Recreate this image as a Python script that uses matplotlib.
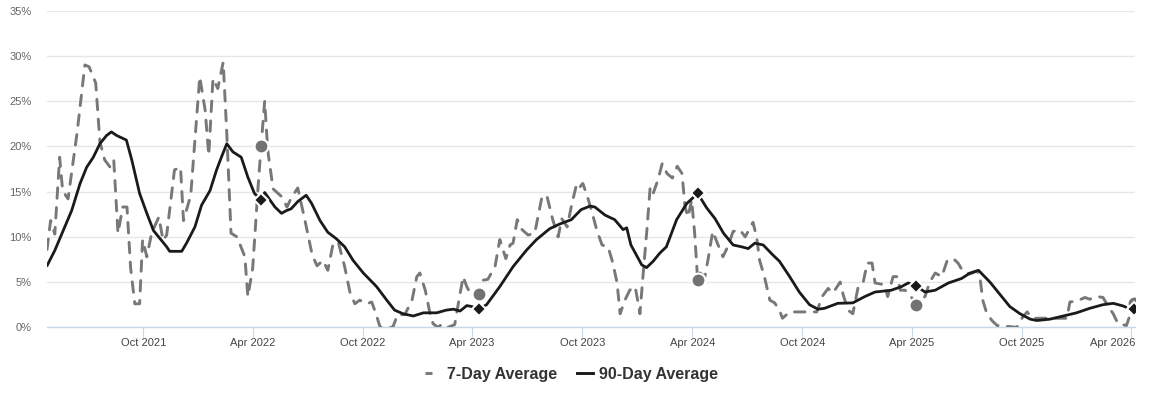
import matplotlib
matplotlib.use('Agg')
import matplotlib.pyplot as plt
from matplotlib.lines import Line2D
import matplotlib.transforms as mtransforms
import pandas as pd

plt.rcParams['font.family'] = ['Liberation Sans', 'DejaVu Sans']

# ---------------- data ----------------
dates7 = ['2021-04-24','2021-04-30','2021-05-07','2021-05-15','2021-05-20','2021-05-29','2021-06-13','2021-06-26',
          '2021-07-03','2021-07-14','2021-07-21','2021-07-29','2021-08-07','2021-08-13','2021-08-20','2021-08-28',
          '2021-09-04','2021-09-10','2021-09-17','2021-09-25','2021-09-30','2021-10-07','2021-10-15','2021-10-27',
          '2021-11-03','2021-11-09','2021-11-22','2021-12-02','2021-12-07','2021-12-19','2022-01-03','2022-01-12',
          '2022-01-18','2022-01-25','2022-02-02','2022-02-11','2022-02-17','2022-02-24','2022-03-06','2022-03-19',
          '2022-03-24','2022-04-01','2022-04-10','2022-04-15','2022-04-21','2022-04-26','2022-05-05','2022-05-20',
          '2022-05-28','2022-06-05','2022-06-15','2022-06-27','2022-07-09','2022-07-17','2022-07-27','2022-08-04',
          '2022-08-12','2022-08-21','2022-09-01','2022-09-10','2022-09-18','2022-09-26','2022-10-08','2022-10-16',
          '2022-10-23','2022-10-30','2022-11-20','2022-11-28','2022-12-10','2022-12-22','2022-12-30','2023-01-04',
          '2023-01-13','2023-01-21','2023-01-26','2023-02-03','2023-02-11','2023-02-20','2023-03-03','2023-03-10',
          '2023-03-17','2023-03-23','2023-03-31','2023-04-12','2023-04-18','2023-04-27','2023-05-09','2023-05-17',
          '2023-05-27','2023-06-03','2023-06-08','2023-06-15','2023-06-23','2023-07-03','2023-07-14','2023-07-26',
          '2023-08-03','2023-08-13','2023-08-22','2023-08-28','2023-09-06','2023-09-14','2023-09-22','2023-09-27',
          '2023-10-02','2023-10-09','2023-10-17','2023-10-25','2023-11-03','2023-11-13','2023-11-21','2023-11-28',
          '2023-12-03','2023-12-11','2023-12-19','2023-12-28','2024-01-02','2024-01-05','2024-01-10','2024-01-17',
          '2024-01-22','2024-01-27','2024-02-04','2024-02-11','2024-02-19','2024-02-28','2024-03-07','2024-03-15',
          '2024-03-20','2024-03-25','2024-03-31','2024-04-05','2024-04-10','2024-04-14','2024-04-22','2024-04-27',
          '2024-05-05','2024-05-14','2024-05-22','2024-05-30','2024-06-08','2024-06-19','2024-06-28','2024-07-11',
          '2024-07-17','2024-07-22','2024-07-30','2024-08-08','2024-08-16','2024-08-24','2024-08-29','2024-09-10',
          '2024-10-25','2024-11-03','2024-11-13','2024-11-21','2024-12-03','2024-12-08','2024-12-16','2024-12-24',
          '2025-01-02','2025-01-10','2025-01-17','2025-01-25','2025-01-30','2025-02-15','2025-02-20','2025-03-01',
          '2025-03-08','2025-03-13','2025-03-21','2025-03-29','2025-04-08','2025-04-23','2025-05-01','2025-05-10',
          '2025-05-21','2025-05-30','2025-06-09','2025-06-17','2025-06-25','2025-07-07','2025-07-18','2025-07-23',
          '2025-07-28','2025-08-04','2025-08-13','2025-08-21','2025-09-23','2025-10-03','2025-10-10','2025-10-18',
          '2025-12-15','2025-12-20','2026-01-01','2026-01-14','2026-01-22','2026-02-03','2026-02-13','2026-02-21',
          '2026-03-02','2026-03-10','2026-03-24','2026-04-06']
vals7 = [8.6,11.8,10.3,18.8,15.1,14.2,21.5,29.0,
         28.8,27.0,20.5,18.5,17.7,18.5,10.4,13.3,
         13.3,6.6,2.6,2.6,9.7,7.8,10.4,12.2,
         9.6,10.2,17.4,17.7,11.8,14.6,27.7,24.0,
         19.0,27.5,26.4,29.3,21.4,10.4,10.0,7.8,
         3.4,6.5,15.5,20.0,25.0,19.6,15.3,14.4,
         13.3,14.4,15.4,11.8,8.0,6.8,7.4,6.3,
         9.0,9.5,6.7,3.8,2.6,3.0,2.6,2.8,
         1.5,0.0,0.0,1.4,1.4,3.0,5.6,6.0,
         4.1,1.5,0.4,0.0,0.4,0.0,0.3,3.0,
         5.6,4.5,3.5,3.7,5.2,5.3,6.7,9.7,
         7.6,9.1,9.3,11.9,10.8,10.2,10.4,14.4,
         14.6,11.9,10.0,12.0,11.1,13.7,15.9,15.5,
         15.9,14.6,12.8,10.8,9.1,8.9,7.1,4.9,
         1.5,3.0,4.1,4.5,2.7,1.5,5.6,11.1,
         15.5,14.8,16.3,18.1,17.0,16.5,17.8,17.0,
         13.3,12.2,14.1,10.4,5.2,6.0,5.6,7.4,
         10.6,9.1,7.8,8.9,10.6,10.8,10.0,11.6,
         10.0,7.4,5.6,3.0,2.7,1.9,1.0,1.7,
         1.7,3.4,4.3,3.8,5.0,3.6,1.9,1.5,
         4.5,4.9,7.1,7.1,4.9,4.7,3.4,5.6,
         5.6,4.1,4.1,3.6,2.5,3.4,5.0,6.0,
         5.6,7.4,7.6,7.1,6.2,5.9,6.2,5.8,
         3.0,1.5,0.7,0.2,0.0,1.2,1.7,1.0,
         1.0,2.8,2.9,3.3,3.1,3.4,3.3,2.4,
         1.5,0.4,0.2,2.7]

dates90 = ['2021-04-24','2021-05-07','2021-05-21','2021-06-04','2021-06-18','2021-06-29','2021-07-10','2021-07-21',
           '2021-08-01','2021-08-09','2021-08-18','2021-09-03','2021-09-12','2021-09-25','2021-10-07','2021-10-18',
           '2021-10-29','2021-11-09','2021-11-14','2021-12-04','2021-12-12','2021-12-26','2022-01-06','2022-01-20',
           '2022-01-31','2022-02-08','2022-02-17','2022-02-27','2022-03-13','2022-03-24','2022-04-04','2022-04-15',
           '2022-04-21','2022-05-08','2022-05-19','2022-05-27','2022-06-04','2022-06-15','2022-06-29','2022-07-08',
           '2022-07-22','2022-08-04','2022-08-18','2022-09-01','2022-09-15','2022-10-02','2022-10-24','2022-11-10',
           '2022-11-23','2022-12-07','2022-12-24','2023-01-10','2023-02-01','2023-02-17','2023-03-01','2023-03-12',
           '2023-03-23','2023-03-31','2023-04-12','2023-04-25','2023-05-17','2023-06-08','2023-06-30','2023-07-17',
           '2023-08-08','2023-08-24','2023-09-13','2023-09-29','2023-10-14','2023-10-22','2023-11-08','2023-11-24',
           '2023-12-08','2023-12-14','2023-12-21','2023-12-30','2024-01-08','2024-01-16','2024-01-27','2024-02-07',
           '2024-02-18','2024-03-06','2024-03-23','2024-04-10','2024-04-25','2024-05-09','2024-05-23','2024-06-08',
           '2024-06-22','2024-07-03','2024-07-14','2024-07-28','2024-08-13','2024-08-24','2024-09-10','2024-09-26',
           '2024-10-13','2024-10-27','2024-11-07','2024-11-29','2024-12-24','2025-01-13','2025-01-30','2025-02-26',
           '2025-03-15','2025-03-26','2025-04-08','2025-04-23','2025-05-10','2025-06-01','2025-06-23','2025-07-07',
           '2025-07-21','2025-08-09','2025-08-26','2025-09-11','2025-09-28','2025-10-15','2025-10-26','2025-11-17',
           '2025-12-09','2025-12-31','2026-01-22','2026-02-13','2026-03-02','2026-03-19','2026-03-27','2026-04-06']
vals90 = [6.8,8.5,10.7,12.9,15.9,17.7,18.8,20.3,
          21.2,21.6,21.2,20.7,18.5,14.8,12.6,10.7,
          9.8,8.9,8.4,8.4,9.3,11.1,13.5,15.1,
          17.4,18.8,20.3,19.4,18.8,16.6,14.8,14.1,
          14.9,13.3,12.6,12.9,13.1,13.9,14.6,13.7,
          11.8,10.5,9.8,8.9,7.4,6.0,4.5,3.0,
          1.9,1.5,1.25,1.6,1.6,1.9,2.0,1.8,
          2.4,2.3,2.0,2.5,4.5,6.7,8.5,9.7,
          10.9,11.4,11.9,13.0,13.4,13.3,12.4,11.9,
          10.8,11.0,9.1,8.0,6.9,6.6,7.3,8.2,
          8.9,11.9,13.7,14.8,13.2,12.0,10.4,9.1,
          8.9,8.7,9.3,9.1,8.0,7.3,5.6,3.9,
          2.5,2.0,2.1,2.65,2.7,3.4,3.9,4.1,
          4.5,4.9,4.6,3.9,4.1,4.9,5.4,6.0,
          6.3,5.0,3.6,2.3,1.5,0.9,0.75,0.9,
          1.25,1.6,2.1,2.5,2.65,2.35,2.1,2.0]

marker_dates = ['2022-04-15', '2023-04-12', '2024-04-10', '2025-04-08', '2026-04-06']
marker7_vals = [20.0, 3.7, 5.2, 2.5, 2.7]
marker90_vals = [14.1, 2.0, 14.8, 4.6, 2.0]

xtick_dates = ['2021-10-01', '2022-04-01', '2022-10-01', '2023-04-01', '2023-10-01',
               '2024-04-01', '2024-10-01', '2025-04-01', '2025-10-01', '2026-04-01']
xtick_labels = ['Oct 2021', 'Apr 2022', 'Oct 2022', 'Apr 2023', 'Oct 2023',
                'Apr 2024', 'Oct 2024', 'Apr 2025', 'Oct 2025', 'Apr 2026']
ytick_vals = [0, 5, 10, 15, 20, 25, 30, 35]
series_names = ['7-Day Average', '90-Day Average']

# ---------------- figure ----------------
W, H = 1150, 401
fig = plt.figure(figsize=(W / 100, H / 100), dpi=100)
ax = fig.add_axes([47 / W, 1 - 327.3 / H, (1135 - 47) / W, (327.3 - 10.7) / H])

gray = '#787878'
black = '#1a1a1a'

ax.plot(pd.to_datetime(dates7), vals7, color=gray, lw=2.1, dashes=(3.6, 3.2),
        dash_capstyle='round', dash_joinstyle='round', zorder=3)
ax.plot(pd.to_datetime(dates90), vals90, color=black, lw=2.0,
        solid_capstyle='round', solid_joinstyle='round', zorder=4)
ax.plot(pd.to_datetime(marker_dates), marker7_vals, linestyle='none', marker='o', ms=10,
        mfc='#727272', mec='white', mew=1.5, zorder=5)
ax.plot(pd.to_datetime(marker_dates), marker90_vals, linestyle='none', marker='D', ms=7.2,
        mfc=black, mec='white', mew=1.5, zorder=6)

ax.set_xlim(pd.Timestamp('2021-04-24'), pd.Timestamp('2026-04-07 06:00'))
ax.set_ylim(0, 35)
ax.set_yticks(ytick_vals)
ax.set_yticklabels([f'{v}%' for v in ytick_vals])
ax.set_xticks(pd.to_datetime(xtick_dates))
ax.set_xticklabels(xtick_labels)

ax.yaxis.grid(True, color='#e6e6e6', lw=1)
ax.set_axisbelow(True)
for s in ['top', 'right', 'left']:
    ax.spines[s].set_visible(False)
ax.spines['bottom'].set_color('#ccd6eb')
ax.spines['bottom'].set_linewidth(1)
ax.spines['bottom'].set_zorder(2)

ax.tick_params(axis='y', length=0, pad=11, labelsize=8, labelcolor='#666666')
ax.tick_params(axis='x', length=7, width=0.8, color='#ccd6eb', pad=0.5, labelsize=8,
               labelcolor='#444444')

# keep the last x label inside the figure (shifted left like the reference)
last = ax.get_xticklabels()[-1]
last.set_horizontalalignment('right')
last.set_transform(last.get_transform() + mtransforms.ScaledTranslation(4 / 100, 0, fig.dpi_scale_trans))

handles = [Line2D([], [], color=gray, lw=2.1, linestyle=(0, (2.4, 20)), dash_capstyle='butt'),
           Line2D([], [], color=black, lw=2.1)]
fig.legend(handles, series_names, loc='center', bbox_to_anchor=(0.497, 1 - 374.5 / H),
           ncol=2, frameon=False, handlelength=1.0, handletextpad=0.35, columnspacing=1.3,
           prop={'family': 'Liberation Sans', 'weight': 'bold', 'size': 11.5},
           labelcolor='#333333')

fig.savefig('out.png', dpi=100)
